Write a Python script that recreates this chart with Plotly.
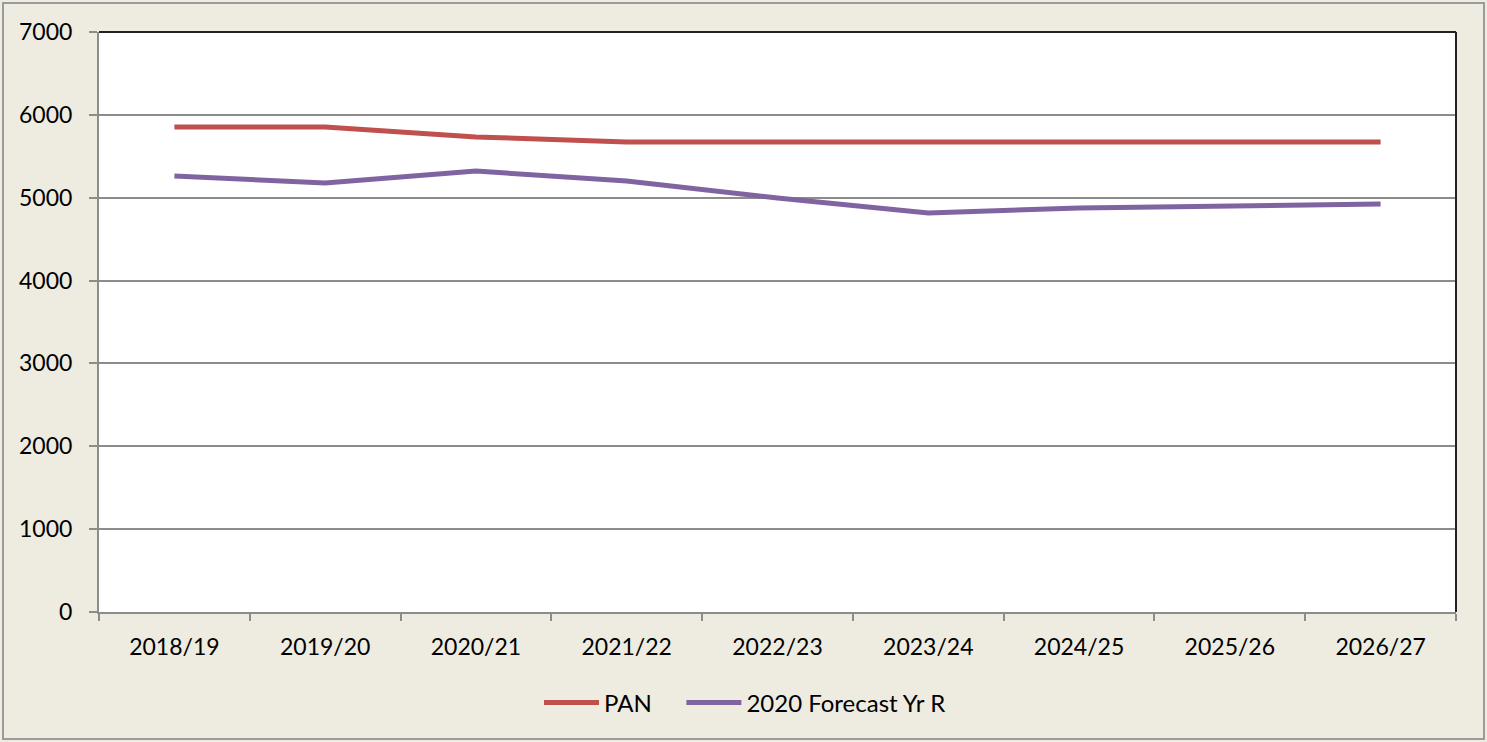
import plotly.graph_objects as go

categories = ["2018/19", "2019/20", "2020/21", "2021/22", "2022/23",
              "2023/24", "2024/25", "2025/26", "2026/27"]
pan = [5853, 5853, 5733, 5672, 5672, 5672, 5672, 5672, 5672]
forecast = [5262, 5177, 5322, 5201, 4996, 4815, 4876, 4900, 4924]
y_ticks = [0, 1000, 2000, 3000, 4000, 5000, 6000, 7000]

W, H = 1487, 742
L, R, T, B = 99, 31, 32, 130
pw, ph = W - L - R, H - T - B

def px(x):
    return (x - L) / pw

def py(y):
    return (H - B - y) / ph

fig = go.Figure()
fig.add_trace(go.Scatter(x=categories, y=pan, name="PAN\u00a0\u00a0\u00a0\u00a0", mode="lines",
                         line=dict(color="#C0504D", width=5)))
fig.add_trace(go.Scatter(x=categories, y=forecast, name="2020 Forecast Yr R", mode="lines",
                         line=dict(color="#8064A2", width=5)))

font = dict(family="Lato, 'Noto Sans', sans-serif", size=23, color="#000000")
lfont = dict(family="Lato, 'Noto Sans', sans-serif", size=24, color="#000000")

fig.update_layout(
    width=W, height=H,
    margin=dict(l=L, r=R, t=T, b=B),
    paper_bgcolor="#EEEBE0",
    plot_bgcolor="#FFFFFF",
    font=font,
    showlegend=True,
    legend=dict(orientation="h", x=px(745), xanchor="center", y=py(703), yanchor="middle",
                font=lfont, bgcolor="rgba(0,0,0,0)", itemwidth=55, tracegroupgap=0),
    xaxis=dict(type="category", range=[-0.5, 8.5], tickson="boundaries",
               ticks="outside", ticklen=7, tickcolor="#8c8c8c", tickwidth=2,
               showline=True, linecolor="#8c8c8c", linewidth=2,
               showgrid=False, tickfont=font, ticklabelstandoff=13),
    yaxis=dict(range=[0, 7000], tickvals=y_ticks, ticks="outside", ticklen=8,
               tickcolor="#8c8c8c", tickwidth=2,
               showline=True, linecolor="#8c8c8c", linewidth=2,
               showgrid=True, gridcolor="#8c8c8c", gridwidth=1.5,
               zeroline=False, tickfont=font, ticklabelstandoff=12),
    shapes=[
        dict(type="line", xref="paper", yref="paper", x0=0, x1=1, y0=1, y1=1,
             line=dict(color="#222222", width=2), layer="above"),
        dict(type="line", xref="paper", yref="paper", x0=1, x1=1, y0=0, y1=1,
             line=dict(color="#222222", width=2), layer="above"),
        dict(type="rect", xref="paper", yref="paper",
             x0=px(3), x1=px(W - 3), y0=py(H - 3), y1=py(3),
             line=dict(color="#9a9a9a", width=2), layer="below"),
    ],
)

fig.write_html("out.html", config={"displayModeBar": False},
               post_script="document.body.style.margin='0';document.body.style.overflow='hidden';")
